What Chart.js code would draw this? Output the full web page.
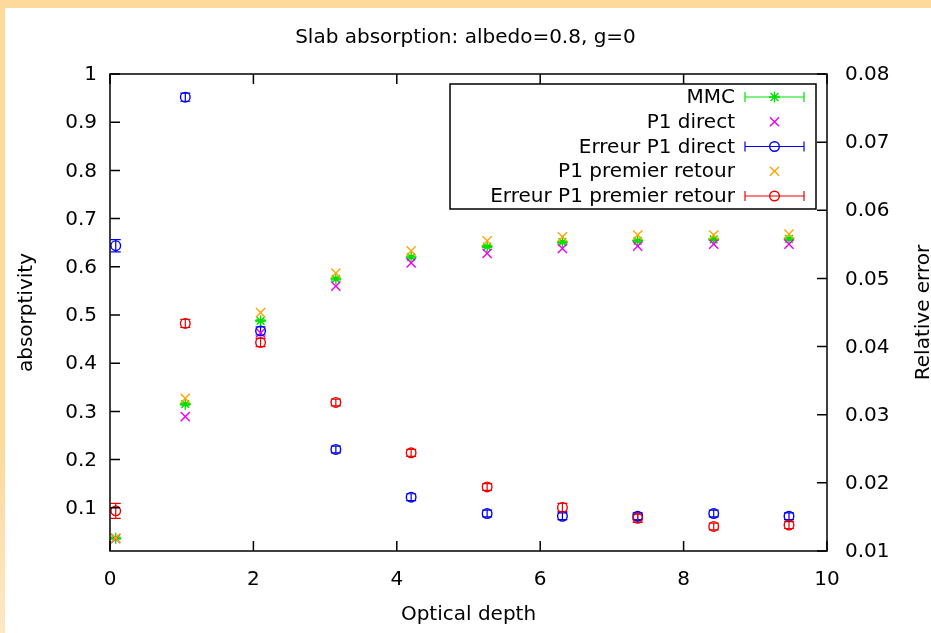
<!DOCTYPE html>
<html>
<head>
<meta charset="utf-8">
<script src="https://cdn.jsdelivr.net/npm/chart.js"></script>
<style>
  html, body { margin: 0; padding: 0; background: #fff; }
  #wrap { position: relative; width: 931px; height: 633px; overflow: hidden; }
  #topband { position: absolute; left: 0; top: 0; width: 931px; height: 8px; background: #fdd99b; }
  #leftband { position: absolute; left: 0; top: 0; width: 5px; height: 633px; background: linear-gradient(#fdd99b 70%, #fde8c6); }
  #myChart { position: absolute; left: 0; top: 0; }
</style>
</head>
<body>
<div id="wrap">
  <div id="topband"></div>
  <div id="leftband"></div>
  <canvas id="myChart" width="931" height="633"></canvas>
</div>
<script>
// values
const depth = [0.08, 1.05, 2.1, 3.15, 4.2, 5.26, 6.31, 7.36, 8.42, 9.47];

const mmc = [0.037, 0.315, 0.488, 0.575, 0.62, 0.642, 0.651, 0.654, 0.657, 0.658];
const mmcErr = [0.002, 0.002, 0.002, 0.002, 0.002, 0.002, 0.002, 0.002, 0.002, 0.002];

const p1Direct = [0.036, 0.289, 0.463, 0.56, 0.608, 0.628, 0.638, 0.643, 0.647, 0.647];
const p1Retour = [0.037, 0.327, 0.505, 0.587, 0.633, 0.654, 0.662, 0.666, 0.666, 0.668];

// relative errors (right axis)
const errDirect = [0.0548, 0.0766, 0.0423, 0.0249, 0.0179, 0.0155, 0.0151, 0.0151, 0.0155, 0.0151];
const errDirectBar = [0.0009, 0.0006, 0.0006, 0.0005, 0.0005, 0.0005, 0.0005, 0.0005, 0.0005, 0.0005];
const errRetour = [0.0159, 0.0434, 0.0406, 0.0318, 0.0244, 0.0194, 0.0164, 0.0148, 0.0136, 0.0138];
const errRetourBar = [0.0011, 0.0006, 0.0006, 0.0005, 0.0005, 0.0005, 0.0006, 0.0006, 0.0005, 0.0005];

const xTicks = [0, 2, 4, 6, 8, 10];

const toPts = vals => vals.map((v, i) => ({x: depth[i], y: v}));
const fmt = v => String(+(+v).toFixed(3));

Chart.defaults.font.family = "'DejaVu Sans'";
Chart.defaults.font.size = 20;
Chart.defaults.color = "#000";

// gnuplot style: error bars, frame with inward ticks, boxed legend on the right
const gnuplotLook = {
  id: "gnuplotLook",
  beforeDatasetsDraw(chart) {
    const ctx = chart.ctx;
    const xs = chart.scales.x;
    chart.data.datasets.forEach(ds => {
      if (!ds.errors) return;
      const ys = chart.scales[ds.yAxisID];
      ctx.save();
      ctx.strokeStyle = ds.borderColor;
      ctx.lineWidth = 1.2;
      ds.data.forEach((p, i) => {
        const e = ds.errors[i];
        const px = xs.getPixelForValue(p.x);
        const y1 = ys.getPixelForValue(p.y - e);
        const y2 = ys.getPixelForValue(p.y + e);
        ctx.beginPath();
        ctx.moveTo(px, y1); ctx.lineTo(px, y2);
        ctx.moveTo(px - 5, y1); ctx.lineTo(px + 5, y1);
        ctx.moveTo(px - 5, y2); ctx.lineTo(px + 5, y2);
        ctx.stroke();
      });
      ctx.restore();
    });
  },
  afterDraw(chart) {
    const ctx = chart.ctx;
    const a = chart.chartArea;
    const {x, y, y2} = chart.scales;
    ctx.save();
    ctx.strokeStyle = "#000";
    ctx.lineWidth = 1.5;
    ctx.strokeRect(a.left, a.top, a.right - a.left, a.bottom - a.top);
    ctx.beginPath();
    x.ticks.forEach(t => {
      const px = x.getPixelForValue(t.value);
      ctx.moveTo(px, a.bottom); ctx.lineTo(px, a.bottom - 10);
      ctx.moveTo(px, a.top); ctx.lineTo(px, a.top + 10);
    });
    y.ticks.forEach(t => {
      const py = y.getPixelForValue(t.value);
      ctx.moveTo(a.left, py); ctx.lineTo(a.left + 10, py);
    });
    y2.ticks.forEach(t => {
      const py = y2.getPixelForValue(t.value);
      ctx.moveTo(a.right, py); ctx.lineTo(a.right - 10, py);
    });
    ctx.stroke();

    // right axis title, read bottom to top like gnuplot
    ctx.save();
    ctx.translate(929, (a.top + a.bottom) / 2);
    ctx.rotate(-Math.PI / 2);
    ctx.font = "20px 'DejaVu Sans'";
    ctx.fillStyle = "#000";
    ctx.textAlign = "center";
    ctx.textBaseline = "alphabetic";
    ctx.fillText("Relative error", 0, 0);
    ctx.restore();

    // legend
    const boxR = a.right - 11, boxL = boxR - 366, boxT = a.top + 10, boxH = 125;
    ctx.fillStyle = "#fff";
    ctx.fillRect(boxL, boxT, boxR - boxL, boxH);
    ctx.strokeRect(boxL, boxT, boxR - boxL, boxH);
    ctx.font = "20px 'DejaVu Sans'";
    ctx.textAlign = "right";
    ctx.textBaseline = "middle";
    chart.data.datasets.forEach((ds, i) => {
      const cy = boxT + 13 + i * 24.75;
      ctx.fillStyle = "#000";
      ctx.fillText(ds.label, boxR - 81, cy + 1);
      const l = boxR - 71, r = boxR - 12, cx = (l + r) / 2;
      ctx.strokeStyle = ds.borderColor;
      ctx.lineWidth = 1.2;
      if (ds.errors) {
        ctx.beginPath();
        ctx.moveTo(l, cy); ctx.lineTo(r, cy);
        ctx.moveTo(l, cy - 5); ctx.lineTo(l, cy + 5);
        ctx.moveTo(r, cy - 5); ctx.lineTo(r, cy + 5);
        ctx.stroke();
      }
      ctx.fillStyle = "rgba(0,0,0,0)";
      ctx.lineWidth = ds.pointBorderWidth;
      Chart.helpers.drawPoint(ctx, {pointStyle: ds.pointStyle, radius: ds.pointRadius, rotation: 0, borderWidth: ds.pointBorderWidth}, cx, cy);
    });
    ctx.restore();
  }
};

// later series on top, like gnuplot
const data = {
  datasets: [
    {
      label: "MMC",
      data: toPts(mmc),
      errors: mmcErr,
      yAxisID: "y",
      order: 5,
      borderColor: "#00e000",
      backgroundColor: "#00e000",
      pointStyle: "star",
      pointRadius: 5.5,
      pointBorderWidth: 1.4,
    },
    {
      label: "P1 direct",
      data: toPts(p1Direct),
      yAxisID: "y",
      order: 4,
      borderColor: "#ee00ee",
      backgroundColor: "#ee00ee",
      pointStyle: "crossRot",
      pointRadius: 6.5,
      pointBorderWidth: 1.4,
    },
    {
      label: "Erreur P1 direct",
      data: toPts(errDirect),
      errors: errDirectBar,
      yAxisID: "y2",
      order: 3,
      borderColor: "#0000ee",
      backgroundColor: "rgba(0,0,0,0)",
      pointStyle: "circle",
      pointRadius: 4.8,
      pointBorderWidth: 1.4,
    },
    {
      label: "P1 premier retour",
      data: toPts(p1Retour),
      yAxisID: "y",
      order: 2,
      borderColor: "#ffa500",
      backgroundColor: "#ffa500",
      pointStyle: "crossRot",
      pointRadius: 6.5,
      pointBorderWidth: 1.4,
    },
    {
      label: "Erreur P1 premier retour",
      data: toPts(errRetour),
      errors: errRetourBar,
      yAxisID: "y2",
      order: 1,
      borderColor: "#ee0000",
      backgroundColor: "rgba(0,0,0,0)",
      pointStyle: "circle",
      pointRadius: 4.8,
      pointBorderWidth: 1.4,
    },
  ],
};

const noGrid = {display: false, drawTicks: false};

const config = {
  type: "scatter",
  data,
  plugins: [gnuplotLook],
  options: {
    responsive: false,
    animation: false,
    events: [],
    layout: {padding: 0},
    plugins: {
      legend: {display: false},
      tooltip: {enabled: false},
      title: {
        display: true,
        text: "Slab absorption: albedo=0.8, g=0",
        font: {size: 20, weight: "normal"},
        color: "#000",
        padding: {top: 26, bottom: 24},
      },
    },
    scales: {
      x: {
        type: "linear",
        position: "bottom",
        min: 0,
        max: 10,
        afterBuildTicks: s => { s.ticks = xTicks.map(v => ({value: v})); },
        ticks: {padding: 17, callback: fmt, autoSkip: false, maxRotation: 0},
        grid: noGrid,
        border: {display: false},
        title: {display: true, text: "Optical depth", padding: {top: 0, bottom: 6}},
        afterFit: s => { s.height = 82; },
      },
      y: {
        type: "linear",
        position: "left",
        min: 0.0104,
        max: 1,
        ticks: {stepSize: 0.1, padding: 13, labelOffset: 1, callback: fmt, autoSkip: false},
        afterBuildTicks: s => { s.ticks = s.ticks.filter(t => t.value > 0.05); },
        grid: noGrid,
        border: {display: false},
        title: {display: true, text: "absorptivity", padding: {top: 15, bottom: 0}},
        afterFit: s => { s.width = 110; },
      },
      y2: {
        type: "linear",
        position: "right",
        min: 0.01,
        max: 0.08,
        ticks: {stepSize: 0.01, padding: 18, labelOffset: 1, callback: fmt, autoSkip: false},
        grid: noGrid,
        border: {display: false},
        afterFit: s => { s.width = 104; },
      },
    },
  },
};

const myChart = new Chart(document.getElementById("myChart"), config);
</script>
</body>
</html>
